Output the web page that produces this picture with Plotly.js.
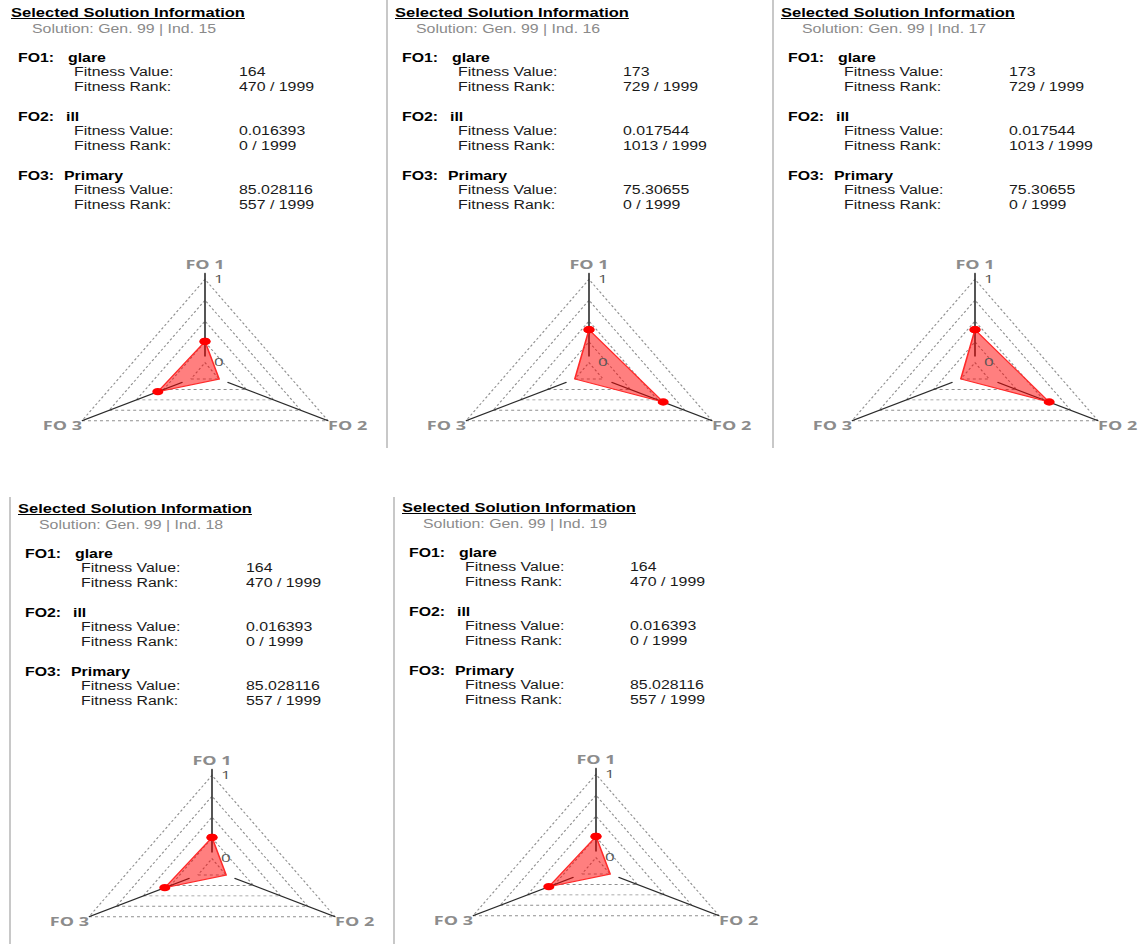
<!DOCTYPE html>
<html><head><meta charset="utf-8">
<script src="https://cdn.plot.ly/plotly-3.0.1.min.js"></script>
<style>
html,body{margin:0;padding:0;width:1140px;height:944px;overflow:hidden;background:#fff;}
.t{position:absolute;white-space:nowrap;font-family:'Liberation Sans',Arial,sans-serif;line-height:13px;transform:scaleX(1.27);transform-origin:0 50%;color:#000;}
.title{font-weight:700;font-size:13px;text-decoration:underline;}
.sub{font-size:12.5px;color:#8a8a8a;}
.fo{font-weight:700;font-size:12.5px;}
.lbl{font-size:12.5px;color:#1a1a1a;}
.bar{position:absolute;width:2px;background:#c8c8c8;}
.radar{position:absolute;width:400px;height:400px;transform-origin:0 0;}
</style></head>
<body><div id="root"></div>
<script>
// ---- data ----
const CATS = ['FO 1', 'FO 2', 'FO 3'];
const objectiveNames = ['glare', 'ill', 'Primary'];
const solutionInds = [15, 16, 17, 18, 19];
const solutionGen = 99;
const fo1Values = ['164', '173', '173', '164', '164'];
const fo1Ranks = ['470 / 1999', '729 / 1999', '729 / 1999', '470 / 1999', '470 / 1999'];
const fo2Values = ['0.016393', '0.017544', '0.017544', '0.016393', '0.016393'];
const fo2Ranks = ['0 / 1999', '1013 / 1999', '1013 / 1999', '0 / 1999', '0 / 1999'];
const fo3Values = ['85.028116', '75.30655', '75.30655', '85.028116', '85.028116'];
const fo3Ranks = ['557 / 1999', '0 / 1999', '0 / 1999', '557 / 1999', '557 / 1999'];
// normalised radar values (FO1, FO2, FO3) per solution
const radarFO1 = [0.235, 0.365, 0.365, 0.235, 0.235];
const radarFO2 = [0.0, 0.507, 0.507, 0.0, 0.0];
const radarFO3 = [0.279, 0.0, 0.0, 0.279, 0.279];
const gridTicks = [0, 0.23, 0.46, 0.69, 0.92];
const gridTickText = ['0', '', '', '', '1'];

// ---- layout (positions / styles only) ----
const panelX = [0, 384, 770, 7, 391];
const panelY = [0, 0, 0, 496, 495];
const SQUISH = 0.663;
const R_MIN = -0.12, R_MAX = 1;
const SPOKE_START = 0.07;
const root = document.getElementById('root');

function addText(cls, txt, x, cy) {
  const d = document.createElement('div');
  d.className = 't ' + cls;
  d.textContent = txt;
  d.style.left = x + 'px';
  d.style.top = (cy - 6.5) + 'px';
  root.appendChild(d);
}
function addBar(x, y0, y1) {
  const d = document.createElement('div');
  d.className = 'bar';
  d.style.left = x + 'px'; d.style.top = y0 + 'px'; d.style.height = (y1 - y0) + 'px';
  root.appendChild(d);
}

const barSpans = [null, [0, 448], [0, 448], [1, 448], [2, 449]];

solutionInds.forEach((ind, i) => {
  const ox = panelX[i], oy = panelY[i];
  if (barSpans[i]) addBar(ox + 2, oy + barSpans[i][0], oy + barSpans[i][1]);
  addText('title', 'Selected Solution Information', ox + 11, oy + 12);
  addText('sub', 'Solution: Gen. ' + solutionGen + ' | Ind. ' + ind, ox + 32, oy + 29);
  const blocks = [
    ['FO1:', objectiveNames[0], fo1Values[i], fo1Ranks[i], 68],
    ['FO2:', objectiveNames[1], fo2Values[i], fo2Ranks[i], 66],
    ['FO3:', objectiveNames[2], fo3Values[i], fo3Ranks[i], 64]
  ];
  blocks.forEach((b, k) => {
    const by = oy + 58 + k * 59;
    addText('fo', b[0], ox + 18, by);
    addText('fo', b[1], ox + b[4], by);
    addText('lbl', 'Fitness Value:', ox + 74, by + 14.6);
    addText('lbl', b[2], ox + 239, by + 14.6);
    addText('lbl', 'Fitness Rank:', ox + 74, by + 29.2);
    addText('lbl', b[3], ox + 239, by + 29.2);
  });

  // radar
  const cx = ox + 205, cy = oy + 373.3;
  const div = document.createElement('div');
  div.className = 'radar';
  div.style.left = (cx - 200) + 'px';
  div.style.top = (cy - 200 * SQUISH) + 'px';
  div.style.transform = 'scaleY(' + SQUISH + ')';
  root.appendChild(div);

  const vals = [radarFO1[i], radarFO2[i], radarFO3[i]];
  const gmax = gridTicks[gridTicks.length - 1];
  const traces = [];
  CATS.forEach((c, k) => traces.push({
    type: 'scatterpolar', r: [SPOKE_START, k === 0 ? R_MAX : gmax], theta: [c, c], mode: 'lines',
    line: {color: '#2b2b2b', width: 1.6}, hoverinfo: 'skip'
  }));
  traces.push({
    type: 'scatterpolar', r: vals.concat([vals[0]]), theta: CATS.concat([CATS[0]]),
    mode: 'lines+markers', fill: 'toself', fillcolor: 'rgba(255,0,0,0.5)',
    line: {color: '#ff2a2a', width: 1.6}, marker: {color: '#ff0000', size: 11}
  });
  traces.push({
    type: 'scatterpolar', r: [R_MAX, gmax, gmax], theta: CATS, mode: 'text', text: CATS,
    textposition: ['top center', 'bottom right', 'bottom left'],
    textfont: {family: 'Open Sans', size: 18, color: '#8c8c8c', weight: 700},
    cliponaxis: false, hoverinfo: 'skip'
  });
  const layout = {
    width: 400, height: 400, margin: {l: 47, r: 47, t: 47, b: 47, pad: 0},
    paper_bgcolor: 'rgba(0,0,0,0)', showlegend: false,
    polar: {
      bgcolor: 'rgba(0,0,0,0)', hole: 0, gridshape: 'linear',
      domain: {x: [0, 1], y: [0, 1]},
      radialaxis: {
        range: [R_MIN, R_MAX], angle: 90, tickmode: 'array', tickvals: gridTicks, ticktext: gridTickText,
        showline: false,
        showgrid: true, gridcolor: '#8f8f8f', griddash: 'dot', gridwidth: 1.3,
        ticks: 'outside', ticklen: 5, tickcolor: 'rgba(0,0,0,0)', tickangle: 90,
        tickfont: {family: 'Open Sans', size: 17, color: '#555'},
        layer: 'above traces'
      },
      angularaxis: {
        type: 'category', categoryarray: CATS, rotation: 90, direction: 'clockwise',
        showline: false, showgrid: false, showticklabels: false, ticks: ''
      }
    }
  };
  Plotly.newPlot(div, traces, layout, {displayModeBar: false, staticPlot: true});
});
</script>
</body></html>
